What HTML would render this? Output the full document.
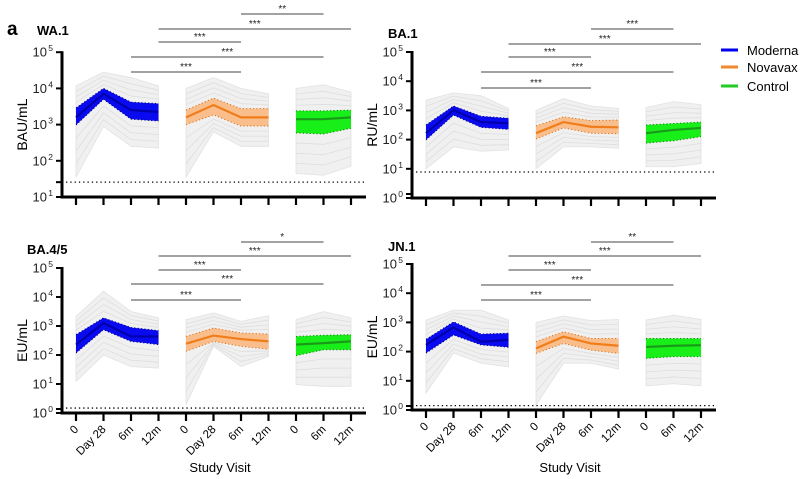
<!DOCTYPE html>
<html><head><meta charset="utf-8">
<style>
body{margin:0;background:#fff;}
svg{display:block;font-family:"Liberation Sans",Arial,sans-serif;}
</style></head>
<body>
<svg id="chart" width="804" height="479" viewBox="0 0 804 479" xmlns="http://www.w3.org/2000/svg">
<text x="7" y="35" font-size="19" font-weight="bold">a</text>
<g>
 <line x1="721" y1="50" x2="738" y2="50" stroke="#0000ee" stroke-width="3"/>
 <text x="747" y="55" font-size="13">Moderna</text>
 <line x1="721" y1="67" x2="738" y2="67" stroke="#f08a2c" stroke-width="3"/>
 <text x="747" y="72" font-size="13">Novavax</text>
 <line x1="721" y1="86" x2="738" y2="86" stroke="#22cc22" stroke-width="3"/>
 <text x="747" y="91" font-size="13">Control</text>
</g>
</svg>
<script>
// categories (tick order): Moderna 0,D28,6m,12m | Novavax 0,D28,6m,12m | Control 0,6m,12m
const visitLabels = ["0","Day 28","6m","12m","0","Day 28","6m","12m","0","6m","12m"];
const groups = ["Moderna","Novavax","Control"];
const groupSizes = [4,4,3];
const panelTitles = ["WA.1","BA.1","BA.4/5","JN.1"];
const unitLabels = ["BAU/mL","RU/mL","EU/mL","EU/mL"];
// values as log10 titers
const wa1Median = [3.2,3.85,3.4,3.35, 3.2,3.54,3.2,3.2, 3.15,3.15,3.2];
const wa1Q1     = [2.99,3.7,3.15,3.1, 3.0,3.27,2.96,2.96, 2.77,2.74,2.9];
const wa1Q3     = [3.46,4.0,3.62,3.58, 3.4,3.73,3.44,3.44, 3.38,3.38,3.4];
const wa1Min    = [1.55,2.95,2.4,2.35, 1.55,2.8,2.4,2.4, 1.65,1.6,1.85];
const wa1Max    = [4.07,4.45,4.3,4.07, 4.0,4.3,4.0,3.85, 4.0,4.1,3.9];
const wa1Lod = 1.41;
const ba1Median = [2.22,3.01,2.6,2.56, 2.22,2.6,2.44,2.42, 2.22,2.33,2.4];
const ba1Q1     = [1.99,2.84,2.42,2.35, 2.02,2.4,2.22,2.2, 1.88,1.96,2.1];
const ba1Q3     = [2.5,3.15,2.8,2.73, 2.47,2.78,2.65,2.67, 2.5,2.55,2.6];
const ba1Min    = [1.0,1.75,1.6,1.65, 1.0,1.75,1.75,1.7, 1.07,1.07,1.18];
const ba1Max    = [3.35,3.6,3.5,3.07, 3.0,3.4,3.15,3.07, 3.1,3.3,3.2];
const ba1Lod = 0.89;
const ba45Median = [2.36,3.1,2.64,2.64, 2.39,2.67,2.55,2.47, 2.36,2.41,2.47];
const ba45Q1     = [2.07,2.87,2.47,2.36, 2.13,2.47,2.3,2.2, 1.98,2.18,2.18];
const ba45Q3     = [2.7,3.28,2.95,2.84, 2.64,2.93,2.76,2.72, 2.64,2.68,2.7];
const ba45Min    = [1.09,2.0,1.6,1.55, 0.29,2.3,1.6,1.95, 0.98,0.92,0.92];
const ba45Max    = [3.33,4.2,3.5,3.28, 3.22,3.45,3.16,3.36, 3.22,3.5,3.28];
const ba45Lod = 0.17;
const jn1Median = [2.23,2.83,2.34,2.4, 2.11,2.51,2.28,2.2, 2.16,2.2,2.22];
const jn1Q1     = [1.95,2.57,2.23,2.15, 1.94,2.28,2.05,1.94, 1.77,1.83,1.83];
const jn1Q3     = [2.42,3.02,2.6,2.63, 2.34,2.68,2.45,2.45, 2.45,2.45,2.45];
const jn1Min    = [0.58,1.95,1.6,1.48, 0.17,1.6,1.6,1.4, 0.83,0.9,0.83];
const jn1Max    = [3.08,3.42,3.42,3.08, 3.0,3.22,3.06,3.1, 3.08,3.25,3.1];
const jn1Lod = 0.15;
// significance comparisons: [fromTickIndex, toTickIndex]
const wa1Sig = [[6,9,"**"],[3,10,"***"],[3,6,"***"],[2,9,"***"],[2,6,"***"]];
const ba1Sig = [[6,9,"***"],[3,10,"***"],[3,6,"***"],[2,9,"***"],[2,6,"***"]];
const ba45Sig = [[6,9,"*"],[3,10,"***"],[3,6,"***"],[2,9,"***"],[2,6,"***"]];
const jn1Sig = [[6,9,"**"],[3,10,"***"],[3,6,"***"],[2,9,"***"],[2,6,"***"]];

const NS="http://www.w3.org/2000/svg";
const svg=document.getElementById('chart');
function mk(tag,attrs,parent){const e=document.createElementNS(NS,tag);for(const k in attrs)e.setAttribute(k,attrs[k]);(parent||svg).appendChild(e);return e;}

const panels=[
 {title:panelTitles[0],unit:unitLabels[0],med:wa1Median,q1:wa1Q1,q3:wa1Q3,mn:wa1Min,mx:wa1Max,lod:wa1Lod,sig:wa1Sig,
  ax:62,x0:76,dx:27.5,xEnd:366,minLog:1,y0:197,dec:36.2,titleX:37,titleY:35,unitX:27,sigY:[14,29,42,57,72],xlabels:false},
 {title:panelTitles[1],unit:unitLabels[1],med:ba1Median,q1:ba1Q1,q3:ba1Q3,mn:ba1Min,mx:ba1Max,lod:ba1Lod,sig:ba1Sig,
  ax:412,x0:426,dx:27.5,xEnd:716,minLog:0,y0:198,dec:29.2,titleX:388,titleY:38,unitX:377,sigY:[29,44,57,72,88],xlabels:false},
 {title:panelTitles[2],unit:unitLabels[2],med:ba45Median,q1:ba45Q1,q3:ba45Q3,mn:ba45Min,mx:ba45Max,lod:ba45Lod,sig:ba45Sig,
  ax:62,x0:76,dx:27.5,xEnd:366,minLog:0,y0:413,dec:29,titleX:27,titleY:254,unitX:27,sigY:[242,256,270,284,300],xlabels:true},
 {title:panelTitles[3],unit:unitLabels[3],med:jn1Median,q1:jn1Q1,q3:jn1Q3,mn:jn1Min,mx:jn1Max,lod:jn1Lod,sig:jn1Sig,
  ax:412,x0:426,dx:27.5,xEnd:716,minLog:0,y0:410,dec:29.2,titleX:388,titleY:251,unitX:377,sigY:[242,256,270,285,300],xlabels:true}
];
const fills=["#0a0af0","#f9be8c","#18ee18"];
const edges=["#000088","#d9731c","#0a8a0a"];
const meds=["#0000aa","#f07d1a","#1a9a1a"];
const names=["moderna","novavax","control"];

panels.forEach((p,pi)=>{
 const g=mk('g',{});
 
 
 const X=i=>p.x0+i*p.dx;
 const Y=v=>p.y0-(v-p.minLog)*p.dec;
 const yTop=Y(5);
 const t=mk('text',{x:p.titleX,y:p.titleY,'font-size':13,'font-weight':'bold'},g);t.textContent=p.title;
 
 
 const cy=(yTop+p.y0)/2;
 const u=mk('text',{x:p.unitX,y:cy,'font-size':14,'text-anchor':'middle',transform:`rotate(-90 ${p.unitX} ${cy})`},g);u.textContent=p.unit;
 
 
 let start=0;
 groupSizes.forEach((n,gi)=>{
  const idx=[];for(let k=0;k<n;k++)idx.push(start+k);
  const env=idx.map(i=>X(i)+','+Y(p.mx[i])).concat(idx.slice().reverse().map(i=>X(i)+','+Y(p.mn[i]))).join(' ');
  const e=mk('polygon',{points:env,fill:'#f0f0f0',stroke:'#e2e2e2','stroke-width':0.8},g);
  
  
  [0.25,0.5,0.75].forEach(f=>{
   const pts=idx.map(i=>X(i)+','+Y(p.q3[i]+(p.mx[i]-p.q3[i])*f)).join(' ');
   const l=mk('polyline',{points:pts,fill:'none',stroke:'#dedede','stroke-width':0.8},g);
   
   
   const pts2=idx.map(i=>X(i)+','+Y(p.q1[i]-(p.q1[i]-p.mn[i])*f)).join(' ');
   const l2=mk('polyline',{points:pts2,fill:'none',stroke:'#dedede','stroke-width':0.8},g);
   
   
  });
  const band=idx.map(i=>X(i)+','+Y(p.q3[i])).concat(idx.slice().reverse().map(i=>X(i)+','+Y(p.q1[i]))).join(' ');
  const b=mk('polygon',{points:band,fill:fills[gi]},g);
  
  
  ['q1','q3'].forEach(q=>{
   const l=mk('polyline',{points:idx.map(i=>X(i)+','+Y(p[q][i])).join(' '),fill:'none',stroke:edges[gi],'stroke-width':1,'stroke-dasharray':'1.2 2.2'},g);
   
   
  });
  const m=mk('polyline',{points:idx.map(i=>X(i)+','+Y(p.med[i])).join(' '),fill:'none',stroke:meds[gi],'stroke-width':2.2},g);
  
  
  start+=n;
 });
 const lod=mk('line',{x1:p.ax+4,x2:p.xEnd-2,y1:Y(p.lod),y2:Y(p.lod),stroke:'#000','stroke-width':1.3,'stroke-dasharray':'1.3 3'},g);
 
 
 const ya=mk('line',{x1:p.ax,x2:p.ax,y1:yTop-1,y2:p.y0+1.5,stroke:'#000','stroke-width':3},g);
 
 
 const xa=mk('line',{x1:p.ax-1.5,x2:p.xEnd,y1:p.y0,y2:p.y0,stroke:'#000','stroke-width':3},g);
 
 
 for(let v=p.minLog;v<=5;v++){
  const y=Y(v);
  mk('line',{x1:p.ax-6,x2:p.ax,y1:y,y2:y,stroke:'#000','stroke-width':2},g);
  const tl=mk('text',{x:p.ax-15,y:y+4.5,'font-size':13,'text-anchor':'end',fill:'#222'},g);
  tl.textContent='10';
  
  
  const sp=mk('text',{x:p.ax-9,y:y-1,'font-size':8.5,'text-anchor':'end',fill:'#222'},g);
  sp.textContent=String(v);
  
  
 }
 const bt=p.minLog===1?Y(p.lod):p.y0-4;
 mk('line',{x1:p.ax-6,x2:p.ax,y1:bt,y2:bt,stroke:'#000','stroke-width':2},g);
 visitLabels.forEach((lab,i)=>{
  const x=X(i);
  mk('line',{x1:x,x2:x,y1:p.y0,y2:p.y0+8,stroke:'#000','stroke-width':2.2},g);
  if(p.xlabels){
   const yy=p.y0+17;
   const tx=mk('text',{x:x+3,y:yy,'font-size':11.5,'text-anchor':'end',transform:`rotate(-45 ${x+3} ${yy})`},g);
   tx.textContent=lab;
   
   
  }
 });
 if(p.xlabels){
  const sv=mk('text',{x:(p.ax+p.xEnd)/2+6,y:472,'font-size':13,'text-anchor':'middle'},g);
  sv.textContent='Study Visit';
  
  
 }
 p.sig.forEach((s,k)=>{
  const y=p.sigY[k];
  const ln=mk('line',{x1:X(s[0]),x2:X(s[1]),y1:y,y2:y,stroke:'#444','stroke-width':1},g);
  
  
  const st=mk('text',{x:(X(s[0])+X(s[1]))/2,y:y-2,'font-size':10,'text-anchor':'middle',fill:'#222'},g);
  st.textContent=s[2];
  
  
 });
});
</script>
</body></html>
